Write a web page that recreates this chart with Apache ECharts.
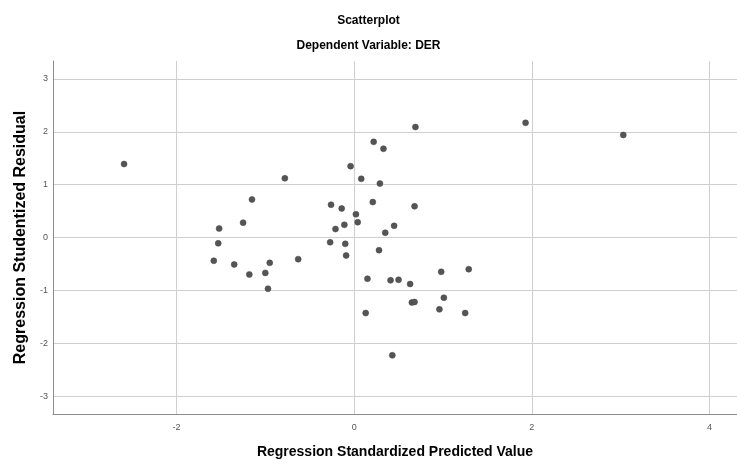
<!DOCTYPE html>
<html>
<head>
<meta charset="utf-8">
<script src="https://cdn.jsdelivr.net/npm/echarts@6/dist/echarts.min.js"></script>
<style>
html,body{margin:0;padding:0;background:#fff;}
#chart{width:737px;height:464px;}
</style>
</head>
<body>
<div id="chart"></div>
<script>
const predicted = [-2.59,-0.78,-1.15,-1.25,-1.52,-1.53,-1.58,-1.35,-0.95,-0.63,-1.18,-1.00,-0.97,
  0.69,0.22,0.33,-0.04,0.08,0.29,-0.26,-0.14,0.21,0.68,0.02,0.04,-0.11,-0.21,0.45,0.35,
  -0.27,-0.10,0.28,-0.09,0.98,1.29,0.15,0.41,0.50,0.63,1.01,0.65,0.68,0.96,1.25,0.13,0.43,1.93,3.03];
const residual = [1.39,1.12,0.72,0.28,0.17,-0.11,-0.44,-0.51,-0.48,-0.41,-0.70,-0.67,-0.97,
  2.09,1.81,1.68,1.35,1.11,1.02,0.62,0.55,0.67,0.59,0.44,0.29,0.24,0.16,0.22,0.09,
  -0.09,-0.12,-0.24,-0.34,-0.65,-0.60,-0.78,-0.81,-0.80,-0.88,-1.14,-1.23,-1.22,-1.36,-1.43,-1.43,-2.23,2.17,1.94];
const xTicks = [-2,0,2,4];
const yTicks = [-3,-2,-1,0,1,2,3];
const titleText = 'Scatterplot';
const subtitleText = 'Dependent Variable: DER';
const xName = 'Regression Standardized Predicted Value';
const yName = 'Regression Studentized Residual';

const points = predicted.map((x, i) => [x, residual[i]]);
const font = '"Liberation Sans", Arial, sans-serif';
const chart = echarts.init(document.getElementById('chart'), null, {renderer: 'canvas'});
chart.setOption({
  backgroundColor: '#ffffff',
  animation: false,
  title: [
    {text: titleText, left: 'center', top: 10, textStyle: {fontFamily: font, fontSize: 12, fontWeight: 'bold', color: '#000'}},
    {text: subtitleText, left: 'center', top: 35, textStyle: {fontFamily: font, fontSize: 12, fontWeight: 'bold', color: '#000'}}
  ],
  grid: {left: 53, right: 0, top: 61, bottom: 46, containLabel: false},
  xAxis: {
    type: 'value', min: -3.39, max: 4.31,
    name: xName, nameLocation: 'middle', nameGap: 31,
    nameTextStyle: {fontFamily: font, fontSize: 14, fontWeight: 'bold', color: '#000'},
    axisLine: {show: true, onZero: false, lineStyle: {color: '#8c8c8c', width: 1}},
    axisTick: {show: false, customValues: xTicks},
    axisLabel: {customValues: xTicks, fontFamily: font, fontSize: 9, color: '#555', margin: 9},
    splitLine: {show: true, lineStyle: {color: '#cfcfcf', width: 1}}
  },
  yAxis: {
    type: 'value', min: -3.34, max: 3.34,
    name: yName, nameLocation: 'middle', nameGap: 24,
    nameTextStyle: {fontFamily: font, fontSize: 16, fontWeight: 'bold', color: '#000'},
    axisLine: {show: true, onZero: false, lineStyle: {color: '#8c8c8c', width: 1}},
    axisTick: {show: false, customValues: yTicks},
    axisLabel: {customValues: yTicks, fontFamily: font, fontSize: 9, color: '#555', margin: 5},
    splitLine: {show: true, lineStyle: {color: '#cfcfcf', width: 1}}
  },
  series: [{
    type: 'scatter',
    data: points,
    symbol: 'circle',
    symbolSize: 6,
    itemStyle: {color: '#555555', borderColor: '#444', borderWidth: 0.5, opacity: 1},
    emphasis: {disabled: true}
  }]
});
</script>
</body>
</html>
